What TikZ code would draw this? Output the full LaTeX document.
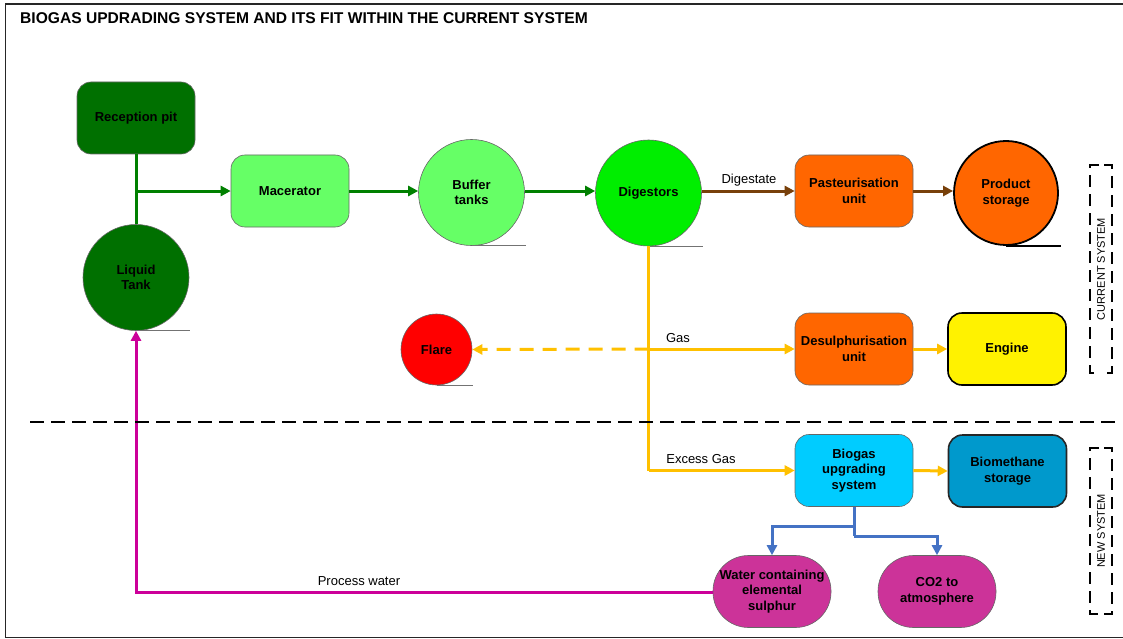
\documentclass[tikz,border=0pt]{standalone}
\usepackage{fontspec}
\setmainfont{Liberation Sans}
\usetikzlibrary{arrows.meta}
\definecolor{dkgreen}{RGB}{0,112,0}
\definecolor{gline}{RGB}{0,128,0}
\definecolor{ltgreen}{RGB}{102,255,102}
\definecolor{brgreen}{RGB}{0,238,0}
\definecolor{brownl}{RGB}{120,64,10}
\definecolor{orangef}{RGB}{255,102,0}
\definecolor{yell}{RGB}{255,192,0}
\definecolor{cyanf}{RGB}{0,204,255}
\definecolor{bluef}{RGB}{0,153,204}
\definecolor{bline}{RGB}{68,114,196}
\definecolor{magf}{RGB}{204,51,153}
\definecolor{magl}{RGB}{204,0,153}
\newcommand{\nfont}{\fontsize{13}{15.5}\selectfont\bfseries}
\newcommand{\lfont}{\fontsize{13}{15.5}\selectfont}
\begin{document}
\begin{tikzpicture}[x=1pt,y=-1pt,
  box/.style={draw=black!60, line width=0.6pt, rounded corners=14pt, minimum width=118pt, minimum height=72pt, align=center, font=\nfont, inner sep=1pt},
  tank/.style={circle, draw=black!60, line width=0.6pt, minimum size=106pt, align=center, font=\nfont, inner sep=1pt},
  pill/.style={draw=black!60, line width=0.6pt, rounded corners=35.5pt, minimum width=118pt, minimum height=72pt, align=center, font=\nfont, inner sep=1pt},
  uline/.style={draw=black!55, line width=0.8pt},
  conn/.style={line width=3pt},
  tip/.style={-{Triangle[length=10pt,width=10pt]}},
  lbl/.style={font=\lfont, inner sep=1pt},
  brk/.style={line width=2pt, dash pattern=on 12pt off 7pt}
]
\useasboundingbox (0,0) rectangle (1123,639);
\draw[black!85, line width=1.5pt] (1122.5,4) -- (5.5,4) -- (5.5,637.5) -- (1122.5,637.5);
\node[anchor=west, font=\fontsize{15.6}{17}\selectfont\bfseries, inner sep=0pt] (title) at (20,18) {BIOGAS UPDRADING SYSTEM AND ITS FIT WITHIN THE CURRENT SYSTEM};

% nodes
\node[box, fill=dkgreen] (rp) at (136,118) {Reception pit};
\node[tank, fill=dkgreen] (lt) at (136,277.5) {Liquid\\Tank};
\node[box, fill=ltgreen] (mac) at (290,191) {Macerator};
\node[tank, fill=ltgreen] (buf) at (471.5,192.5) {Buffer\\tanks};
\node[tank, fill=brgreen] (dig) at (648.5,193) {Digestors};
\node[box, fill=orangef] (pas) at (854,191) {Pasteurisation\\unit};
\node[tank, fill=orangef, draw=black, line width=1.8pt, minimum size=104pt] (ps) at (1006,193) {Product\\storage};
\node[tank, fill=red, minimum size=71pt] (fl) at (436.5,349.5) {Flare};
\node[box, fill=orangef] (des) at (854,349) {Desulphurisation\\unit};
\node[box, fill=yellow, draw=black, line width=1.6pt] (eng) at (1007,349) {Engine};
\node[box, fill=cyanf] (bus) at (854,470.5) {Biogas\\upgrading\\system};
\node[box, fill=bluef, draw=black!85, line width=1.6pt] (bms) at (1007.5,471) {Biomethane\\storage};
\node[pill, fill=magf] (wat) at (772,591.5) {Water containing\\elemental\\sulphur};
\node[pill, fill=magf] (co2) at (937,591.5) {CO2 to\\atmosphere};

% tank underlines
\draw[uline] (lt.south) -- ++(54,0);
\draw[uline] (buf.south) -- ++(54,0);
\draw[uline] (dig.south) -- ++(54,0);
\draw[uline] (fl.south) -- ++(36,0);
\draw[draw=black, line width=2.2pt] (ps.south) -- ++(55,0);

% green flow
\coordinate (j1) at (136,191);
\draw[gline, conn] (rp.south) -- (lt.north);
\draw[gline, conn, tip] (j1) -- (mac.west);
\draw[gline, conn, tip] (mac.east) -- (buf.west |- mac.east);
\draw[gline, conn, tip] (buf.east |- mac.east) -- (dig.west |- mac.east);

% brown flow
\draw[brownl, conn, tip] (dig.east |- pas.west) -- (pas.west);
\draw[brownl, conn, tip] (pas.east) -- (ps.west |- pas.east);
\node[lbl] (dlab) at (749,180) {Digestate};

% yellow gas
\coordinate (g1) at (648.5,349);
\coordinate (g2) at (648.5,470.5);
\draw[yell, conn] (dig.south) -- (g2);
\draw[yell, conn, tip] (g1) -- (des.west);
\draw[yell, conn, tip, dash pattern=on 14pt off 9pt] (g1) -- (fl.east);
\draw[yell, conn, tip] (g2) -- (bus.west);
\draw[yell, conn, tip] (des.east) -- (eng.west);
\draw[yell, conn, tip] (bus.east) -- (bms.west);
\node[lbl] (glab) at (678,338) {Gas};
\node[lbl] (elab) at (701,459) {Excess Gas};

% blue outputs
\coordinate (b0) at (854,536);
\coordinate (b1) at (854,526);
\draw[bline, conn] (bus.south) -- (b0);
\draw[bline, conn, tip] (b1) -| (wat.north);
\draw[bline, conn, tip] (b0) -| (co2.north);

% process water
\coordinate (pw) at (136,592);
\draw[magl, conn, tip] (wat.west |- pw) -- (pw) -- (lt.south);
\node[lbl] (plab) at (359,581) {Process water};

% separator
\draw[black, line width=2pt, dash pattern=on 14pt off 7pt] (30,422) -- (1117,422);

% brackets
\draw[brk] (1099,165) -- (1090,165) -- (1090,373) -- (1099,373);
\draw[brk] (1104,165) -- (1112,165) -- (1112,373) -- (1104,373);
\node[rotate=90, font=\fontsize{11}{13}\selectfont, inner sep=0pt] (cs) at (1101,269) {CURRENT SYSTEM};
\draw[brk] (1099,448) -- (1090,448) -- (1090,614) -- (1099,614);
\draw[brk] (1104,448) -- (1112,448) -- (1112,614) -- (1104,614);
\node[rotate=90, font=\fontsize{11}{13}\selectfont, inner sep=0pt] (ns) at (1101,531) {NEW SYSTEM};
\end{tikzpicture}
\end{document}
